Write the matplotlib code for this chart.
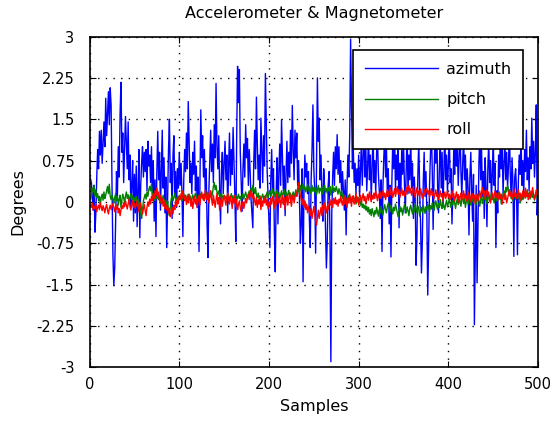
import numpy as np
import matplotlib
matplotlib.use('Agg')
import matplotlib.pyplot as plt

plt.rcParams['font.family'] = ['DejaVu Sans']
plt.rcParams['axes.unicode_minus'] = False

# azimuth (samples 1..500)
azimuth = [
    0.42, 0.35, 0.10, -0.15, 0.30, -0.55, -0.20, 0.45, 0.95, 0.60, 1.28, 0.85, 1.30, 0.70, 1.05, 1.45, 1.00, 1.88, 1.20, 1.62, 2.00, 1.40, 2.07, 1.75, 0.30,
    -0.95, -1.52, -1.20, -0.40, 0.55, 0.10, 1.00, 0.45, 1.60, 2.17, 0.90, 1.25, 0.35, 0.95, 1.55, 1.10, 0.60, 1.45, 0.40, 0.85, -0.10, 0.30, 0.75, -0.35, 0.50,
    -0.20, 0.65, -0.45, 0.20, 0.95, -0.65, 0.30, 0.70, 1.00, 0.45, 0.90, 0.55, 0.95, 0.20, 1.10, 0.65, 0.85, 0.35, 1.00, 0.05, 0.75, -0.35, 0.40, -0.63, 0.55,
    1.28, 0.40, 0.90, -0.15, 0.60, 1.30, 0.25, 0.80, -0.20, 0.45, -0.83, 0.10, 0.95, 1.50, 0.35, 0.70, -0.30, 0.85, 1.20, 0.10, 0.55, -0.10, 0.60, 0.25, 0.90,
    0.30, 0.70, 0.15, -0.63, 0.40, 0.95, 0.55, 1.25, 0.60, 1.82, 1.05, 0.35, 0.70, 0.15, 0.90, 0.50, 1.10, 0.20, 0.65, -0.10, 0.45, -0.90, 0.30, 1.67, 0.80,
    1.20, 0.45, 0.95, 0.10, 0.60, -0.40, -1.01, 0.20, 0.75, 1.30, 0.55, 1.05, 0.35, 1.40, 0.80, 2.15, 1.00, 0.60, 1.20, 0.25, -0.40, 0.55, 0.90, 0.15, 0.70,
    1.10, 0.40, 0.85, -0.20, 0.65, 1.25, 0.30, 0.95, 0.50, 1.35, 0.70, 0.10, -0.72, 1.20, 2.46, 1.80, 2.40, 0.90, 0.35, -0.17, 0.60, 1.05, 0.45, 1.40, 0.80,
    1.15, 0.30, 0.95, 0.55, 0.05, -0.20, -0.47, 0.70, 1.30, 0.60, 1.90, 1.05, 0.40, 0.85, 0.25, 1.52, 0.90, 0.35, 1.20, 0.65, 2.33, 1.40, 0.55, 0.10, -0.30,
    -0.83, 0.40, 0.95, 0.20, 0.60, -0.55, -1.27, 0.15, 0.80, -0.40, 0.55, 1.05, 0.30, 1.49, 0.85, 0.20, 0.65, -0.25, 0.50, 1.10, 0.35, 0.90, 0.45, 1.30, 0.70,
    1.75, 0.95, 0.40, 1.30, 0.80, 1.25, 0.30, 0.75, 0.05, -0.75, -0.40, 0.60, -1.45, 0.20, 0.85, 0.45, 0.70, 0.15, 0.55, -0.30, -0.83, 0.40, 0.95, 1.76, 0.60,
    0.20, -0.93, 0.70, 2.25, 1.10, 1.52, 0.40, 0.85, 0.15, -0.35, 0.60, 0.25, -0.45, -1.20, -0.70, 0.30, 0.55, -0.60, -2.90, -0.20, 0.45, 0.90, 0.30, 1.00, 0.60,
    1.22, 0.50, 1.00, 0.35, 0.75, 0.10, 0.55, 0.20, -0.15, 0.40, -0.60, 0.30, 0.85, 0.45, 1.20, 2.95, 1.80, 0.60, 0.95, 0.35, 0.70, 0.15, 0.60, 0.30, 0.85,
    0.10, 0.55, 1.10, 0.30, 0.80, 1.40, 0.45, 0.95, 0.20, 0.65, 1.25, 0.40, 0.85, 0.05, 0.60, 1.30, 0.35, 0.75, 0.15, 0.90, 1.15, 0.50, 0.20, -0.30, 0.40,
    -0.90, 0.25, 0.80, 1.20, 0.45, 0.95, 0.10, 0.60, -0.40, 0.30, -1.00, 0.35, 1.10, 0.60, 1.35, 0.20, 0.85, 0.40, 1.25, -0.47, 0.70, 0.15, 0.95, 0.50, 1.05,
    0.35, -0.20, 0.60, 1.30, 0.15, 0.85, 0.40, 1.20, 0.25, 0.70, -0.30, 0.45, 0.05, -1.15, -0.60, 0.50, 1.10, 0.20, -0.40, -1.29, -0.70, 0.35, 0.90, 0.10, 0.55,
    -0.20, -1.69, -0.80, 0.30, 0.85, 1.40, 0.60, -0.50, 0.45, 1.20, 0.70, 1.50, 0.30, -0.20, 0.65, 1.10, 0.25, 0.90, -0.10, 0.55, 1.30, 0.40, 0.85, 0.15, 0.70,
    1.25, 0.35, 0.60, -0.40, 0.20, 0.95, 0.50, 1.35, 0.65, 1.00, 0.30, 0.80, 1.45, 0.55, 0.10, 0.70, 1.20, 0.40, 0.85, 0.05, 0.60, 0.25, -0.60, 0.45, 0.90,
    0.20, -0.35, 0.50, -2.23, -0.90, 0.30, -1.47, -0.40, 0.65, 1.30, 0.40, 0.95, 0.10, 0.55, -0.30, 0.80, 0.25, -0.45, 0.60, 1.10, 0.35, 0.75, 0.05, 0.50, 1.20,
    0.30, 0.70, -0.83, 0.20, -0.20, 0.85, 0.45, 1.30, 0.60, 0.95, 0.15, 0.70, 1.15, 0.40, 0.90, 0.25, 0.65, 1.40, 0.50, 0.10, 0.80, 0.35, -0.99, 0.45, 0.60,
    0.20, -0.96, 0.35, 0.85, 0.50, 1.20, 0.30, 0.75, 0.15, 0.95, 0.55, 1.30, 0.40, 0.80, 0.20, 1.00, 0.60, 1.52, 0.70, 1.10, 0.45, 0.90, 1.76, -0.24, 0.30,
]

pitch = [
    0.05, 0.12, 0.25, 0.18, 0.30, 0.10, 0.22, 0.08, 0.15, 0.02, 0.10, -0.05, 0.08, 0.14, 0.03, 0.18, 0.06, 0.12, 0.20, 0.28, 0.15, 0.32, 0.10, 0.04, 0.12,
    0.06, -0.02, 0.08, 0.15, 0.02, 0.10, -0.06, 0.05, 0.12, -0.10, 0.03, 0.14, 0.08, -0.02, 0.10, 0.18, 0.06, 0.13, 0.00, 0.09, 0.15, 0.04, 0.11, -0.04, 0.07,
    0.02, 0.10, -0.08, 0.05, -0.12, 0.00, -0.22, -0.30, -0.15, 0.02, 0.08, 0.14, 0.05, 0.18, 0.10, 0.22, 0.28, 0.20, 0.32, 0.15, 0.08, 0.12, 0.02, 0.10, 0.06,
    0.14, 0.04, 0.10, -0.02, 0.08, 0.00, 0.12, 0.05, -0.06, 0.03, -0.12, 0.02, -0.18, -0.25, -0.10, 0.05, 0.12, 0.02, 0.08, 0.16, 0.06, 0.00, 0.10, 0.04, 0.12,
    0.05, 0.10, 0.02, 0.08, 0.15, 0.06, 0.12, 0.03, 0.09, 0.14, 0.05, 0.11, 0.00, 0.07, 0.13, 0.04, 0.10, 0.16, 0.06, 0.02, 0.09, 0.12, 0.05, 0.15, 0.08,
    0.11, 0.03, 0.09, 0.14, 0.06, 0.18, 0.10, 0.04, 0.12, 0.20, 0.08, 0.15, 0.28, 0.35, 0.22, 0.30, 0.18, 0.12, 0.20, 0.14, 0.08, 0.16, 0.10, 0.05, 0.12,
    0.06, 0.10, 0.02, 0.08, 0.13, 0.04, 0.09, 0.15, 0.05, 0.11, 0.00, 0.07, 0.12, 0.03, 0.08, 0.14, 0.06, 0.10, 0.02, 0.09, 0.15, 0.05, 0.12, 0.18, 0.10,
    0.06, 0.14, 0.20, 0.12, 0.25, 0.18, 0.30, 0.22, 0.15, 0.26, 0.12, 0.08, 0.16, 0.05, 0.11, 0.02, 0.09, 0.14, 0.06, 0.10, 0.03, 0.12, 0.18, 0.08, 0.15,
    0.20, 0.10, 0.16, 0.24, 0.12, 0.18, 0.08, 0.14, 0.22, 0.10, 0.17, 0.06, 0.13, 0.20, 0.09, 0.15, 0.23, 0.11, 0.18, 0.07, 0.14, 0.21, 0.10, 0.16, 0.05,
    0.12, 0.18, 0.08, 0.15, 0.22, 0.12, 0.19, 0.26, 0.14, 0.30, 0.20, 0.25, 0.33, 0.22, 0.28, 0.18, 0.24, 0.32, 0.20, 0.27, 0.15, 0.23, 0.30, 0.19, 0.26,
    0.18, 0.28, 0.12, 0.22, 0.30, 0.16, 0.25, 0.20, 0.27, 0.14, 0.23, 0.30, 0.18, 0.24, 0.15, 0.26, 0.20, 0.28, 0.12, 0.22, 0.30, 0.17, 0.25, 0.19, 0.28,
    0.21, 0.14, 0.24, 0.18, 0.10, 0.20, 0.06, 0.14, 0.02, 0.10, 0.05, -0.02, 0.08, 0.12, 0.03, 0.09, 0.00, 0.06, 0.11, 0.02, 0.07, -0.04, 0.04, 0.09, -0.02,
    0.03, -0.06, 0.01, -0.10, -0.04, -0.12, -0.06, -0.15, -0.08, -0.18, -0.10, -0.22, -0.14, -0.25, -0.12, -0.20, -0.27, -0.16, -0.22, -0.10, -0.18, -0.26, -0.14, -0.20, -0.08,
    -0.16, -0.24, -0.12, -0.05, -0.14, -0.20, -0.08, -0.02, -0.10, -0.18, -0.06, -0.13, -0.22, -0.10, -0.16, -0.04, -0.12, -0.20, -0.27, -0.15, -0.08, -0.18, -0.11, -0.24, -0.14,
    -0.05, -0.12, -0.20, -0.09, -0.16, -0.25, -0.12, -0.06, -0.15, -0.22, -0.10, -0.18, -0.03, -0.12, -0.20, -0.08, -0.14, -0.26, -0.16, -0.10, -0.19, -0.06, -0.13, -0.21, -0.09,
    -0.15, -0.04, -0.11, -0.18, -0.07, -0.13, -0.02, -0.10, -0.16, -0.05, 0.02, -0.08, -0.14, -0.03, -0.10, 0.04, -0.06, -0.12, 0.00, -0.07, -0.14, -0.04, 0.03, -0.09, -0.02,
    0.05, -0.04, -0.10, 0.02, -0.06, 0.08, -0.02, -0.12, 0.00, 0.06, -0.05, 0.10, 0.02, -0.08, 0.04, 0.12, -0.03, 0.06, -0.10, 0.01, 0.08, -0.04, 0.03, 0.10, -0.06,
    0.02, 0.08, -0.02, 0.12, 0.04, -0.05, 0.06, 0.14, 0.02, -0.08, 0.05, 0.10, -0.03, 0.07, 0.15, 0.03, 0.09, -0.04, 0.06, 0.12, 0.01, 0.08, 0.16, 0.04, 0.10,
    -0.02, 0.06, 0.12, 0.02, 0.09, 0.16, 0.05, 0.11, -0.04, 0.07, 0.14, 0.20, 0.10, 0.26, 0.18, 0.30, 0.22, 0.12, 0.18, 0.06, 0.13, 0.02, 0.09, 0.15, 0.04,
    0.10, 0.17, 0.06, 0.12, -0.02, 0.08, 0.14, 0.04, 0.10, 0.18, 0.07, 0.13, 0.22, 0.09, 0.16, 0.05, 0.11, 0.19, 0.08, 0.14, 0.03, 0.10, 0.17, 0.06, 0.12,
]

roll = [
    -0.05, -0.10, -0.02, -0.15, -0.08, -0.12, -0.04, -0.18, -0.10, -0.06, -0.14, -0.02, -0.09, -0.16, -0.07, -0.12, -0.20, -0.10, -0.05, -0.15, -0.22, -0.12, -0.06, -0.14, -0.08,
    -0.03, -0.11, -0.18, -0.08, -0.14, -0.04, -0.20, -0.12, -0.25, -0.15, -0.07, -0.12, -0.02, -0.09, 0.02, -0.06, -0.13, -0.04, 0.05, -0.08, -0.15, -0.05, 0.02, -0.10, -0.03,
    -0.12, -0.06, 0.03, -0.08, -0.18, -0.10, -0.02, -0.14, -0.22, -0.12, -0.05, -0.16, -0.25, -0.10, 0.00, -0.08, 0.05, -0.04, 0.10, 0.02, 0.15, 0.06, 0.20, 0.12, 0.25,
    0.08, 0.18, 0.02, 0.12, -0.04, 0.06, -0.08, 0.02, -0.12, -0.05, -0.15, -0.08, -0.20, -0.12, -0.27, -0.18, -0.10, -0.22, -0.06, -0.14, 0.02, -0.08, 0.06, -0.03, 0.10,
    0.04, 0.15, 0.06, 0.20, 0.10, 0.02, 0.12, -0.05, 0.08, -0.02, 0.14, 0.04, -0.08, 0.06, -0.12, 0.00, 0.10, -0.04, 0.05, -0.10, 0.02, 0.12, -0.06, 0.08, 0.18,
    0.06, 0.14, 0.02, 0.22, 0.10, 0.04, 0.16, -0.02, 0.08, 0.20, 0.05, -0.06, 0.12, 0.02, -0.10, 0.04, 0.15, -0.04, 0.08, -0.15, 0.00, 0.10, -0.08, 0.04, 0.12,
    0.02, -0.06, 0.08, 0.16, 0.04, -0.04, 0.10, 0.02, -0.12, 0.06, -0.02, 0.12, -0.08, 0.04, -0.14, -0.05, 0.02, -0.10, -0.18, -0.06, 0.00, -0.12, -0.04, 0.06, -0.02,
    0.08, 0.14, 0.04, 0.20, 0.10, 0.16, 0.06, 0.12, 0.02, -0.06, 0.08, -0.10, 0.04, -0.04, 0.10, -0.14, 0.02, -0.08, 0.06, -0.02, 0.12, -0.06, 0.04, -0.12, 0.00,
    -0.08, 0.06, -0.04, 0.10, 0.02, -0.12, 0.05, -0.06, 0.14, 0.04, -0.02, 0.10, -0.10, 0.03, 0.12, -0.05, 0.08, -0.14, 0.02, 0.10, -0.06, 0.06, 0.16, 0.04, -0.08,
    0.05, 0.12, -0.02, 0.08, 0.18, 0.10, 0.25, 0.35, 0.22, 0.12, 0.04, -0.05, 0.06, -0.10, 0.02, -0.14, -0.04, -0.20, -0.08, -0.15, -0.25, -0.12, -0.30, -0.18, -0.08,
    -0.22, -0.35, -0.42, -0.28, -0.15, -0.30, -0.20, -0.10, -0.25, -0.06, -0.16, -0.02, -0.12, -0.20, -0.08, -0.14, -0.04, 0.04, -0.06, 0.02, -0.10, 0.06, -0.03, 0.08, -0.05,
    0.03, -0.08, 0.05, -0.02, 0.10, 0.00, -0.06, 0.08, -0.04, 0.12, 0.02, -0.10, 0.06, -0.02, 0.14, 0.04, -0.08, 0.10, 0.02, -0.04, 0.06, 0.16, 0.00, 0.08, -0.06,
    0.04, 0.12, -0.02, 0.08, 0.15, 0.02, 0.10, -0.04, 0.06, 0.14, 0.03, 0.18, 0.08, 0.00, 0.12, 0.05, 0.16, 0.06, 0.20, 0.10, 0.02, 0.14, 0.08, 0.18, 0.06,
    0.12, 0.20, 0.08, 0.16, 0.04, 0.14, 0.22, 0.10, 0.18, 0.26, 0.12, 0.20, 0.08, 0.15, 0.24, 0.10, 0.18, 0.28, 0.14, 0.22, 0.08, 0.16, 0.25, 0.12, 0.20,
    0.10, 0.18, 0.26, 0.14, 0.22, 0.30, 0.16, 0.24, 0.12, 0.20, 0.28, 0.15, 0.08, 0.18, 0.26, 0.12, 0.20, 0.10, 0.24, 0.16, 0.06, 0.14, 0.22, 0.12, 0.19,
    0.25, 0.14, 0.20, 0.08, 0.16, 0.24, 0.12, 0.18, 0.06, 0.14, 0.22, 0.10, 0.17, 0.04, 0.12, 0.20, 0.09, 0.15, 0.02, 0.10, 0.18, 0.06, 0.13, 0.20, 0.08,
    0.14, 0.04, 0.12, 0.20, 0.08, 0.15, 0.02, 0.10, 0.18, 0.06, 0.13, -0.02, 0.08, 0.16, 0.04, 0.11, 0.20, 0.07, 0.14, 0.02, 0.10, 0.18, 0.05, 0.12, 0.00,
    0.08, 0.15, 0.04, 0.12, -0.04, 0.06, 0.14, 0.02, 0.10, 0.20, 0.08, 0.16, 0.26, 0.12, 0.20, 0.05, 0.14, 0.22, 0.10, 0.18, 0.06, -0.02, 0.08, 0.16, 0.04,
    0.12, 0.20, 0.08, 0.16, 0.02, 0.10, 0.18, 0.06, 0.14, -0.04, 0.08, 0.15, 0.04, 0.12, -0.02, 0.06, 0.14, 0.22, 0.10, 0.18, 0.05, 0.13, 0.24, 0.10, 0.16,
    0.06, 0.14, 0.22, 0.08, 0.16, 0.02, 0.10, 0.20, 0.06, 0.14, 0.25, 0.10, 0.18, 0.04, 0.12, 0.20, 0.08, 0.16, 0.26, 0.12, 0.05, 0.14, 0.22, 0.10, 0.18,
]

samples = np.arange(1, len(azimuth) + 1)

y_ticks = [-3, -2.25, -1.5, -0.75, 0, 0.75, 1.5, 2.25, 3]
y_tick_labels = ['-3', '-2.25', '-1.5', '-0.75', '0', '0.75', '1.5', '2.25', '3']
x_ticks = [0, 100, 200, 300, 400, 500]

fig = plt.figure(figsize=(5.53, 4.25), dpi=100)
ax = fig.add_axes([0.162, 0.136, 0.811, 0.778])

ax.plot(samples, azimuth, color=(0, 0, 1), lw=1.0, label='azimuth')
ax.plot(samples, pitch, color=(0, 0.5, 0), lw=1.0, label='pitch')
ax.plot(samples, roll, color=(1, 0, 0), lw=1.0, label='roll')

ax.set_xlim(0, 500)
ax.set_ylim(-3, 3)
ax.set_xticks(x_ticks)
ax.set_yticks(y_ticks)
ax.set_yticklabels(y_tick_labels)
ax.tick_params(direction='in', top=True, right=True, labelsize=10.5, length=4, width=0.8)
ax.tick_params(axis='y', pad=11)
ax.tick_params(axis='x', pad=7)
ax.grid(True, linestyle=(0, (1, 4.5)), color='black', linewidth=1.0)
for s in ax.spines.values():
    s.set_linewidth(1.2)

ax.set_title('Accelerometer & Magnetometer', fontsize=11.5, pad=13)
ax.set_xlabel('Samples', fontsize=11.5, labelpad=5)
ax.set_ylabel('Degrees', fontsize=11.5, labelpad=8)

leg = ax.legend(loc='upper right', bbox_to_anchor=(0.967, 0.959), borderaxespad=0,
                fontsize=11.5, handlelength=4.6, handletextpad=0.5, labelspacing=0.95,
                fancybox=False, framealpha=1, edgecolor='black', borderpad=0.75)
leg.get_frame().set_linewidth(1.2)

plt.savefig('out.png', dpi=100)
